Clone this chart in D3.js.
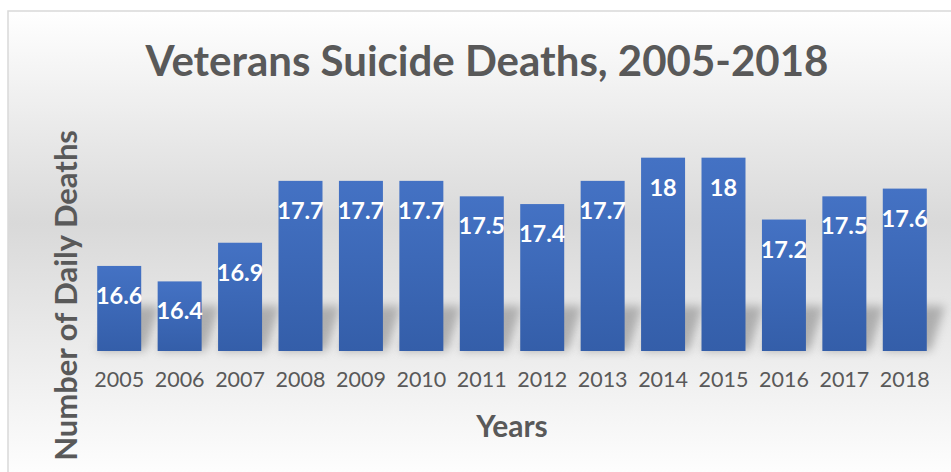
<!DOCTYPE html>
<html>
<head>
<meta charset="utf-8">
<script src="https://cdn.jsdelivr.net/npm/d3@7"></script>
<style>
  body { margin: 0; background: #ffffff; }
  text { font-family: Lato, "Open Sans", sans-serif; }
</style>
</head>
<body>
<script>
var years = ["2005", "2006", "2007", "2008", "2009", "2010", "2011", "2012", "2013", "2014", "2015", "2016", "2017", "2018"];
var deaths = [16.6, 16.4, 16.9, 17.7, 17.7, 17.7, 17.5, 17.4, 17.7, 18, 18, 17.2, 17.5, 17.6];
var yDomain = [15.5, 18.5];

var W = 951, H = 472;
var plot = {left: 89, right: 935, top: 119, bottom: 351};

var data = years.map(function (y, i) { return {year: y, value: deaths[i]}; });

var svg = d3.select("body").append("svg")
	.attr("width", W)
	.attr("height", H);

var defs = svg.append("defs");

//sfondo grigio sfumato
var bg = defs.append("linearGradient")
	.attr("id", "bg")
	.attr("x1", 0).attr("y1", 0).attr("x2", 0).attr("y2", 1);
bg.append("stop").attr("offset", "0%").attr("stop-color", "#ffffff");
bg.append("stop").attr("offset", "45%").attr("stop-color", "#d9d9d9");
bg.append("stop").attr("offset", "100%").attr("stop-color", "#ffffff");

//sfumatura delle barre
var barGrad = defs.append("linearGradient")
	.attr("id", "barGrad")
	.attr("x1", 0).attr("y1", 0).attr("x2", 0).attr("y2", 1);
barGrad.append("stop").attr("offset", "0%").attr("stop-color", "#4472c4");
barGrad.append("stop").attr("offset", "100%").attr("stop-color", "#345ea9");

defs.append("filter")
	.attr("id", "blur")
	.attr("x", "-50%").attr("y", "-50%").attr("width", "200%").attr("height", "200%")
	.append("feGaussianBlur")
	.attr("stdDeviation", 5);

svg.append("rect")
	.attr("x", 8)
	.attr("y", 11)
	.attr("width", W)
	.attr("height", H)
	.attr("fill", "url(#bg)")
	.attr("stroke", "#d9d9d9")
	.attr("stroke-width", 1.5);

var x = d3.scaleBand()
	.domain(years)
	.range([plot.left, plot.right])
	.paddingInner(0.272)
	.paddingOuter(0.136);

var y = d3.scaleLinear()
	.domain(yDomain)
	.range([plot.bottom, plot.top]);

//ombre delle barre
svg.selectAll("shadow")
	.data(data)
	.enter()
	.append("path")
	.attr("d", function (d) {
		var x0 = x(d.year), x1 = x0 + x.bandwidth();
		var b = plot.bottom;
		var top = Math.max(y(d.value), b - 45);
		return "M" + x0 + "," + b + "L" + (x1 + 4) + "," + b +
			"L" + (x1 + 18) + "," + top + "L" + (x0 + 14) + "," + top + "Z";
	})
	.attr("fill", "#7f7f7f")
	.attr("opacity", 0.55)
	.attr("filter", "url(#blur)");

svg.selectAll("bar")
	.data(data)
	.enter()
	.append("rect")
	.attr("x", function (d) { return x(d.year); })
	.attr("y", function (d) { return y(d.value); })
	.attr("width", x.bandwidth())
	.attr("height", function (d) { return plot.bottom - y(d.value); })
	.attr("fill", "url(#barGrad)");

//etichette dei valori
svg.selectAll("vlabel")
	.data(data)
	.enter()
	.append("text")
	.attr("x", function (d) { return x(d.year) + x.bandwidth() / 2; })
	.attr("y", function (d) { return y(d.value) + 38; })
	.attr("text-anchor", "middle")
	.attr("font-size", 23.5)
	.attr("font-weight", "bold")
	.attr("fill", "#ffffff")
	.text(function (d) { return d.value; });

//asse x
var xAxis = svg.append("g")
	.attr("transform", "translate(0," + plot.bottom + ")")
	.call(d3.axisBottom(x).tickSize(0).tickPadding(21));
xAxis.select(".domain").remove();
xAxis.selectAll("text")
	.attr("font-size", 21.5)
	.attr("font-family", "Lato, sans-serif")
	.attr("fill", "#595959");

svg.append("text")
	.attr("x", 487)
	.attr("y", 76)
	.attr("text-anchor", "middle")
	.attr("font-size", 42)
	.attr("font-weight", "bold")
	.attr("fill", "#595959")
	.text("Veterans Suicide Deaths, 2005-2018");

svg.append("text")
	.attr("x", (plot.left + plot.right) / 2)
	.attr("y", 437)
	.attr("text-anchor", "middle")
	.attr("font-size", 30)
	.attr("font-weight", "bold")
	.attr("fill", "#595959")
	.text("Years");

svg.append("text")
	.attr("transform", "translate(77,130) rotate(-90)")
	.attr("text-anchor", "end")
	.attr("font-size", 31)
	.attr("font-weight", "bold")
	.attr("fill", "#595959")
	.text("Number of Daily Deaths");
</script>
</body>
</html>
